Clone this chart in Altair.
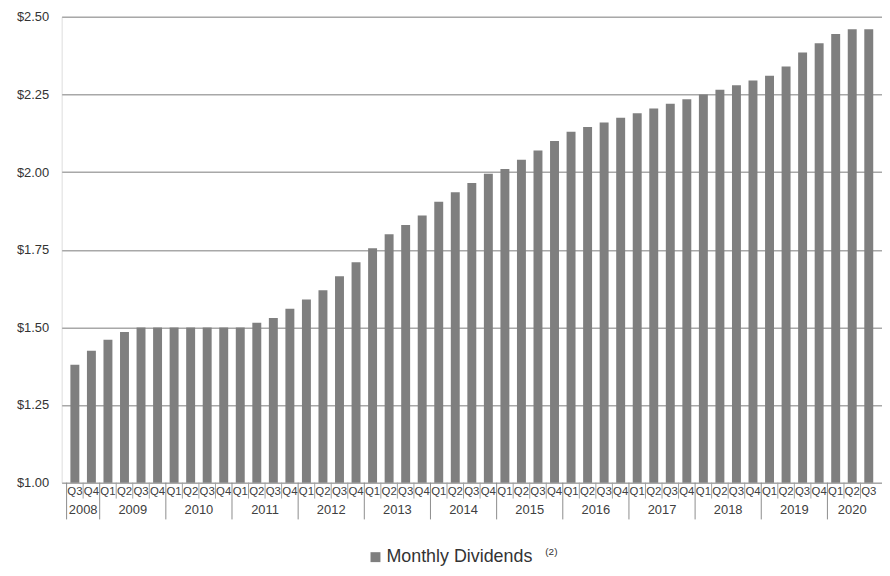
import altair as alt
import pandas as pd

# Data
years_of_bars = ["2008"] * 2 + [str(y) for y in range(2009, 2020) for _ in range(4)] + ["2020"] * 3
quarters = ["Q3", "Q4"] + ["Q1", "Q2", "Q3", "Q4"] * 11 + ["Q1", "Q2", "Q3"]
dividends = [
    1.38, 1.425,                      # 2008
    1.46, 1.485, 1.50, 1.50,          # 2009
    1.50, 1.50, 1.50, 1.50,           # 2010
    1.50, 1.515, 1.53, 1.56,          # 2011
    1.59, 1.62, 1.665, 1.71,          # 2012
    1.755, 1.80, 1.83, 1.86,          # 2013
    1.905, 1.935, 1.965, 1.995,       # 2014
    2.01, 2.04, 2.07, 2.10,           # 2015
    2.13, 2.145, 2.16, 2.175,         # 2016
    2.19, 2.205, 2.22, 2.235,         # 2017
    2.25, 2.265, 2.28, 2.295,         # 2018
    2.31, 2.34, 2.385, 2.415,         # 2019
    2.445, 2.46, 2.46,                # 2020
]
y_ticks = [1.00, 1.25, 1.50, 1.75, 2.00, 2.25, 2.50]
series_name = "Monthly Dividends"
footnote = "(2)"

W, H = 826, 469
FONT = "Liberation Sans"

n = len(dividends)
df = pd.DataFrame({
    "idx": list(range(n)),
    "quarter": quarters,
    "year": years_of_bars,
    "value": dividends,
    "series": [series_name] * n,
})

# year centres and boundaries derived from the data
year_groups = df.groupby("year", sort=False)["idx"]
years_df = pd.DataFrame({
    "year": list(year_groups.groups.keys()),
    "center": year_groups.mean().values,
})
year_bounds = [-0.5] + [g.max() + 0.5 for _, g in year_groups][:-1]
year_bounds_df = pd.DataFrame({"pos": year_bounds})
quarter_bounds_df = pd.DataFrame({
    "pos": [i + 0.5 for i in range(n - 1) if (i + 0.5) not in year_bounds]
})

xscale = alt.Scale(domain=[-0.5, n - 0.5], nice=False, zero=False)

bars = alt.Chart(df).mark_bar(size=9).encode(
    x=alt.X("idx:Q", scale=xscale, axis=None),
    y=alt.Y(
        "value:Q",
        scale=alt.Scale(domain=[1.0, 2.5], nice=False, zero=False),
        axis=alt.Axis(
            values=y_ticks, format="$.2f", title=None, grid=True,
            gridColor="#a8a8a8", gridWidth=1.5, domain=False, ticks=False,
            labelPadding=13, labelFontSize=13, labelColor="#333333", labelFont=FONT,
        ),
    ),
    y2=alt.datum(1.0),
    color=alt.Color(
        "series:N",
        scale=alt.Scale(range=["#7f7f7f"]),
        legend=alt.Legend(
            orient="none", legendX=307, legendY=535, title=None,
            symbolType="square", symbolSize=100, symbolStrokeWidth=0,
            labelFontSize=18, labelColor="#333333", labelFont=FONT, labelOffset=2,
        ),
    ),
)

q_labels = alt.Chart(df).mark_text(
    fontSize=11.5, color="#404040", font=FONT, baseline="middle"
).encode(
    x=alt.X("idx:Q", scale=xscale),
    y=alt.value(H + 9),
    text="quarter:N",
)

y_labels = alt.Chart(years_df).mark_text(
    fontSize=13, color="#404040", font=FONT, baseline="middle"
).encode(
    x=alt.X("center:Q", scale=xscale),
    y=alt.value(H + 28),
    text="year:N",
)

q_ticks = alt.Chart(quarter_bounds_df).mark_rule(color="#a0a0a0", strokeWidth=1).encode(
    x=alt.X("pos:Q", scale=xscale),
    y=alt.value(H),
    y2=alt.value(H + 16),
)

y_ticks_rules = alt.Chart(year_bounds_df).mark_rule(color="#8c8c8c", strokeWidth=1).encode(
    x=alt.X("pos:Q", scale=xscale),
    y=alt.value(H),
    y2=alt.value(H + 37),
)

note = alt.Chart(pd.DataFrame({"t": [footnote]})).mark_text(
    fontSize=10, color="#333333", font=FONT, align="left", baseline="middle"
).encode(
    x=alt.value(487),
    y=alt.value(539),
    text="t:N",
)

chart = alt.layer(bars, q_ticks, y_ticks_rules, q_labels, y_labels, note).properties(
    width=W,
    height=H,
    autosize=alt.AutoSizeParams(type="none"),
    padding={"left": 54, "top": 7, "right": 0, "bottom": 84},
).configure_view(stroke=None).configure(background="white")

chart.save("out.html", embed_options={"renderer": "svg", "actions": False})
